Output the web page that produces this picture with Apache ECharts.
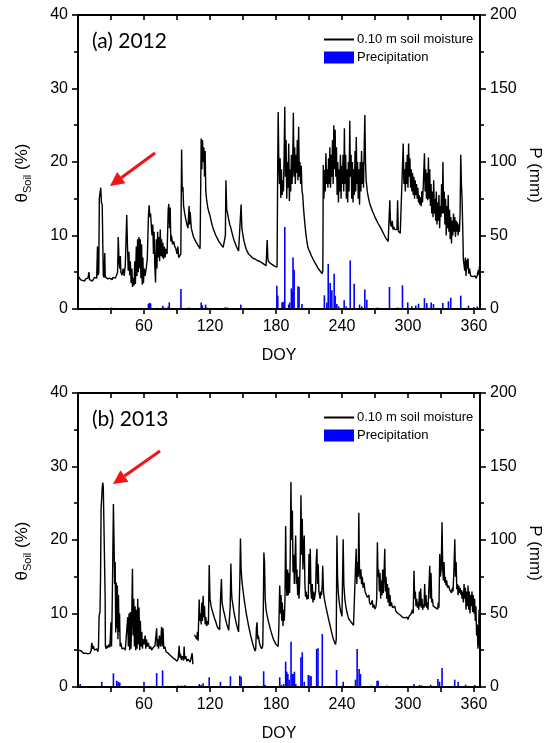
<!DOCTYPE html>
<html>
<head>
<meta charset="utf-8">
<script src="https://cdn.jsdelivr.net/npm/echarts@6/dist/echarts.min.js"></script>
<style>
  html, body { margin: 0; padding: 0; background: #fff; }
  #chart { width: 547px; height: 743px; }
</style>
</head>
<body>
<div id="chart"></div>
<script>
// soil moisture (%) at 0.10 m, [DOY, value]
var sm2012 = [
  [1,4.4],[2,4.0],[3,4.1],[4,3.9],[5,4.0],[6,3.8],[7,4.1],[8,3.9],[9,4.2],[10,5.0],[10.5,4.0],[11,3.9],[12,4.1],[13,3.8],[14,4.0],
  [15,4.3],[16,4.4],[17,4.2],[17.7,8.5],[18.3,4.6],[18.9,5.0],[19.4,15.0],[20,15.8],[20.7,16.5],[21.3,14.5],[22,14.2],[22.6,14.0],[23,4.6],
  [23.7,4.3],[24.3,7.6],[24.8,4.4],[25.5,4.2],[26,4.4],[27,4.1],[28,4.3],[29,4.2],[30,4.4],[31,4.0],[32,4.3],[33,4.5],[34,4.2],[35,4.4],
  [36,5.0],[36.6,9.8],[37.3,6.5],[38,5.5],[38.5,7.2],[39,5.0],[40,4.6],[41,5.5],[42,4.5],[43,6.0],[43.6,9.0],[44.3,12.8],[45,8.5],
  [45.7,5.2],[46.3,7.8],[47,4.6],[47.6,6.5],[48.3,3.5],[49,5.5],[49.6,3.0],[50.3,4.2],[51,3.2],[51.6,6.5],[52.2,3.4],[53,8.5],[53.6,4.5],
  [54.2,9.5],[54.8,5.0],[55.4,9.8],[56,5.5],[56.6,9.5],[57.2,4.2],[57.8,8.8],[58.4,3.3],[59,7.0],[59.5,3.5],[60.2,5.5],[61,4.5],[62,5.5],
  [63,6.8],[64,12.5],[64.7,14.1],[65.3,12.5],[66,13.0],[66.7,11.2],[67.3,10.0],[68,11.5],[68.6,7.5],[69.2,10.5],[69.8,6.0],[70.5,3.6],
  [71.2,9.5],[71.8,5.5],[72.4,10.5],[73,7.0],[73.6,9.8],[74.2,6.5],[74.8,10.8],[75.4,7.2],[76,9.5],[76.6,7.0],[77.2,9.0],[77.8,6.8],
  [78.5,8.5],[79.2,7.0],[80,8.2],[81,7.5],[82,13.5],[82.6,14.3],[83.2,11.0],[83.8,13.8],[84.4,9.2],[85,10.0],[86,8.8],[87,9.2],[88,8.5],
  [89,8.2],[90,7.5],[90.8,8.5],[91.5,7.0],[92.5,7.2],[93.5,7.5],[94.2,21.7],[94.8,16.0],[95.4,16.6],[96,14.0],[97,13.0],[98,12.2],
  [99,11.5],[100,11.0],[101,14.0],[101.5,11.5],[102,13.2],[103,11.0],[104,10.4],[105,9.8],[106,9.6],[107,9.2],[108,9.0],[109,8.7],
  [110,8.5],[111,8.2],[112,23.2],[112.6,19.0],[113.2,23.0],[113.8,20.0],[114.4,22.0],[115,18.0],[115.6,21.5],[116.2,16.0],[117,14.8],
  [118,13.8],[119,13.2],[120,12.7],[121,12.0],[122,11.4],[123,10.9],[124,10.5],[125,10.1],[126,9.8],[127,9.5],[128,9.2],[129,9.0],
  [130,8.8],[131,8.6],[132,8.4],[133,8.3],[134,10.0],[134.5,17.5],[135.2,13.5],[136,13.0],[137,12.2],[138,11.5],[139,11.0],[140,10.4],
  [141,9.8],[142,9.3],[143,8.9],[144,8.5],[145,8.2],[146,7.9],[147,7.7],[148.3,14.2],[149,11.0],[150,10.0],[151,9.2],[152,8.6],[153,8.1],
  [154,7.8],[155,7.5],[156,7.3],[157,7.2],[158,7.0],[159,6.9],[160,6.8],[161,6.8],[162,6.7],[163,6.6],[164,6.6],[165,6.5],[166,6.4],
  [167,6.3],[168,6.2],[169,6.1],[170,6.0],[171,5.9],[172,9.4],[172.6,7.0],[173,6.5],[174,6.3],[175,6.2],[176,6.1],[177,6.0],[178,5.9],
  [179,5.8],[180,6.0],[181,5.7],[181.6,20.0],[182,26.8],[182.6,20.0],[183.2,17.0],[183.8,20.5],[184.4,15.1],[185,19.0],[185.6,15.5],
  [186.2,17.5],[186.8,16.0],[187.4,21.0],[188,27.5],[188.6,18.0],[189.2,23.0],[189.8,15.0],[190.4,20.0],[191,16.5],[191.6,22.5],
  [192.2,14.7],[192.8,19.0],[193.4,16.0],[194,21.0],[194.6,17.0],[195.2,19.5],[195.8,26.7],[196.4,18.0],[197,22.0],[197.6,17.0],
  [198.2,21.0],[198.8,18.5],[199.4,23.0],[200,17.5],[200.6,24.8],[201.2,18.0],[201.8,20.0],[202.4,17.0],[203,19.5],[203.6,16.2],
  [204.3,15.5],[205,13.8],[206,12.0],[207,10.5],[208,9.3],[209,8.4],[210,8.0],[211,7.7],[212,7.3],[213,7.0],[214,6.7],[215,6.4],
  [216,6.2],[217,5.9],[218,5.6],[219,5.4],[220,5.2],[221,5.0],[222,4.8],[222.6,5.2],[223,19.6],[223.6,15.0],[224.2,18.9],[224.8,16.0],
  [225.4,21.2],[226,17.0],[226.6,19.0],[227.2,16.5],[227.8,20.5],[228.4,17.0],[229,22.0],[229.6,16.5],[230.2,21.0],[230.8,18.0],
  [231.4,23.0],[232,17.0],[232.6,25.0],[233.2,19.0],[233.8,24.4],[234.4,18.0],[235,22.0],[235.6,15.5],[236.2,20.0],[236.8,14.5],
  [237.4,19.0],[238,16.0],[238.6,21.0],[239.2,15.0],[239.8,19.5],[240.4,17.0],[241,21.0],[241.6,16.0],[242.2,24.6],[242.8,17.0],
  [243.4,21.0],[244,15.0],[244.6,19.0],[245.2,14.5],[245.8,20.0],[246.4,16.0],[247.1,25.6],[247.7,18.0],[248.3,21.0],[248.9,15.0],
  [249.5,20.0],[250.1,14.5],[250.7,19.0],[251.3,15.5],[251.9,21.5],[252.5,16.0],[253,23.4],[253.6,17.0],[254.2,20.0],[254.8,15.0],
  [255.4,19.0],[256,14.2],[256.6,20.0],[257.2,16.0],[257.8,21.5],[258.4,17.0],[259,20.0],[259.6,16.5],[260.2,22.0],[260.8,26.4],
  [261.4,20.0],[262,17.5],[263,16.0],[264,15.2],[265,14.5],[266,14.0],[267,13.6],[268,13.2],[269,12.9],[270,12.5],[271,12.2],
  [272,11.9],[273,11.6],[274,11.4],[275,11.1],[276,10.8],[277,10.5],[278,10.2],[279,9.9],[280,9.6],[281,9.4],[282,9.2],[282.8,9.1],
  [283.5,14.8],[284.2,11.5],[285,11.2],[285.7,12.0],[286.4,10.8],[287,11.2],[288,10.8],[289,10.6],[290,10.8],[290.6,14.8],[291.2,10.6],
  [292,10.4],[293,10.3],[294,10.2],[294.8,10.5],[295.7,22.5],[296.3,17.0],[297,19.0],[297.6,16.0],[298.2,20.0],[298.8,17.0],[299.4,21.0],
  [300,16.5],[300.6,22.5],[301.2,18.0],[301.8,20.5],[302.4,16.5],[303,19.0],[303.6,16.0],[304.2,18.5],[304.8,15.5],[305.4,18.0],
  [306,15.0],[306.6,17.5],[307.2,15.5],[307.8,17.0],[308.4,15.0],[309,16.5],[309.6,14.5],[310.2,15.5],[310.8,14.2],[311.4,15.2],
  [312,14.0],[312.6,16.0],[313.2,14.5],[314,17.0],[315,21.2],[315.6,16.0],[316.2,19.0],[316.8,15.0],[317.4,18.5],[318,14.8],
  [318.6,20.6],[319.2,15.0],[319.8,19.0],[320.4,14.0],[321,17.0],[321.6,13.0],[322.2,16.0],[322.8,12.5],[323.4,17.5],[324,13.0],
  [324.6,15.0],[325.2,12.0],[325.8,16.0],[326.4,11.5],[327,14.5],[327.6,12.0],[328.2,15.5],[328.8,11.0],[329.4,14.0],[330,12.5],
  [330.6,17.0],[331.2,13.0],[331.8,20.0],[332.4,13.0],[333,16.0],[333.6,11.5],[334.2,15.0],[334.8,10.0],[335.4,14.0],[336,11.0],
  [336.6,15.5],[337.2,10.5],[337.8,13.5],[338.4,9.5],[339,12.5],[339.6,8.9],[340.2,12.0],[340.8,10.0],[341.4,13.0],[342,10.5],
  [342.6,12.5],[343.2,9.8],[343.8,12.0],[344.4,10.5],[345,11.8],[345.6,10.0],[346.2,11.5],[346.8,10.5],[347.4,13.0],[348,21.0],
  [348.6,17.0],[349.2,15.0],[349.8,11.0],[350.4,6.7],[351,6.0],[351.6,5.2],[352.2,7.0],[352.8,4.5],[353.4,6.7],[354,5.5],[354.6,6.9],
  [355.2,4.8],[356,5.5],[357,4.5],[358,4.3],[359,4.4],[360,4.3],[361,4.5],[362,4.2],[363,4.6],[364,5.3],[364.6,4.6],[365,5.8],[365.5,5.2]
];

var sm2013 = [
  [1,5.0],[2,4.8],[3,4.9],[4,4.7],[5,4.6],[6,4.8],[7,4.6],[8,4.7],[9,4.5],[10,4.7],[11,4.6],[12,5.0],[12.5,6.0],[13,5.8],[13.5,5.2],
  [14,5.6],[15,5.0],[16,4.9],[17,5.2],[18,4.8],[18.6,5.3],[19.2,9.7],[20,10.2],[20.5,15.0],[21,24.2],[21.5,24.0],[22,27.0],[22.5,27.8],
  [23,27.2],[23.6,27.3],[24.2,27.0],[24.7,12.0],[24.9,5.6],[25.5,5.2],[26,5.6],[27,5.3],[28,5.8],[29,5.4],[30,8.8],[30.5,5.5],[31,10.0],
  [31.6,17.0],[32.2,24.9],[32.8,19.5],[33.3,14.0],[33.8,17.0],[34.3,7.4],[34.8,14.2],[35.3,8.0],[35.8,13.8],[36.3,6.5],[36.8,12.5],
  [37.3,7.5],[37.8,10.0],[38.3,5.5],[39,6.0],[40,5.2],[41,5.0],[42,5.3],[43,5.0],[44,5.2],[44.6,5.0],[45.2,9.5],[45.8,5.5],[46.4,10.0],
  [47,5.0],[47.6,10.2],[48.2,5.2],[48.8,9.0],[49.5,16.1],[50.1,7.0],[50.7,12.0],[51.3,5.5],[51.9,11.0],[52.5,5.0],[53.1,10.5],[53.7,5.2],
  [54.3,12.0],[54.9,5.8],[55.5,10.8],[56.1,5.0],[56.7,9.0],[57.3,5.5],[58,7.5],[58.6,5.2],[59.2,6.5],[60,5.8],[61,7.0],[61.6,5.2],
  [62.3,6.5],[63,5.5],[64,6.0],[65,5.2],[66,5.5],[67,5.0],[68,5.3],[69,5.1],[70,5.6],[71.5,8.0],[72,5.5],[72.6,6.5],[73.2,5.2],[74,7.0],
  [75,5.5],[76,8.2],[76.6,5.5],[77.3,8.0],[78,5.2],[79,5.5],[80,4.8],[81,5.0],[82,4.6],[83,4.5],[84,4.3],[85,4.2],[86,4.0],[87,3.9],
  [88,3.8],[89,3.6],[90,3.5],[91,3.8],[92,5.6],[92.6,4.0],[93.2,4.5],[94,3.7],[95,4.2],[96,3.6],[96.5,5.5],[97,3.8],[98,4.2],[99,3.5],
  [100,3.8],[101,3.6],[102,3.4],[103,3.3],[103.8,4.6],[104.4,3.2],[104.8,3.1],[105.4,null],[106,7.1],[107,6.8],[108,6.5],[108.6,7.5],
  [109.2,6.3],[110.2,11.9],[110.8,9.0],[111.4,10.0],[112,8.5],[112.6,11.5],[113.2,9.0],[113.8,12.4],[114.4,9.5],[115,11.0],[115.6,8.5],
  [116.2,9.5],[117,8.3],[118,9.0],[118.6,8.5],[119.3,16.6],[120,12.0],[121,11.0],[122,10.4],[123,9.9],[124,9.4],[125,9.0],[126,8.5],
  [127,8.1],[128,7.9],[128.8,7.8],[129.6,12.0],[130.4,14.7],[131,11.5],[132,10.6],[133,10.0],[134,9.3],[135,8.7],[136,8.2],[137,7.7],
  [137.8,7.5],[138.4,11.0],[139,16.8],[139.6,13.0],[140,12.0],[141,11.0],[142,10.0],[143,9.3],[144,8.6],[145,8.0],[146,7.5],[146.7,7.4],
  [147.2,15.0],[147.7,20.2],[148.3,16.0],[149,14.5],[150,13.2],[151,12.0],[152,11.0],[153,10.0],[154,9.2],[155,8.4],[156,7.7],[157,7.0],
  [158,6.4],[159,5.8],[160,5.3],[161,4.9],[161.6,5.2],[162.2,8.0],[162.8,8.8],[163.4,6.5],[164,7.0],[165,6.0],[166,5.5],[167,5.2],
  [168,5.6],[168.6,12.0],[169,18.3],[169.6,16.9],[170.2,12.0],[171,10.5],[172,9.7],[173,9.0],[174,8.4],[175,7.8],[176,7.3],[177,6.8],
  [178,6.4],[179,6.1],[180,5.8],[181,5.6],[182,5.5],[182.6,8.0],[183.4,13.8],[184,10.0],[184.6,12.5],[185.2,9.0],[185.8,11.5],
  [186.4,8.3],[187,10.5],[187.6,9.0],[188.2,12.0],[188.8,21.9],[189.4,14.0],[190,12.4],[190.6,16.0],[191.2,12.5],[191.8,15.5],
  [192.4,12.8],[193,18.0],[193.6,27.9],[194.2,20.0],[194.9,24.0],[195.5,15.6],[196.1,18.0],[196.7,14.0],[197.3,17.0],[197.9,20.6],
  [198.5,14.0],[199.1,16.0],[199.7,12.5],[200.3,15.0],[200.9,12.0],[201.5,14.0],[202.1,18.0],[202.7,26.1],[203.3,18.0],[203.9,22.9],
  [204.5,16.0],[205.1,19.0],[205.7,20.6],[206.3,14.0],[206.9,12.3],[207.5,13.0],[208.1,11.9],[208.7,12.5],[209.4,12.0],[210,18.1],
  [210.6,14.0],[211.2,18.8],[211.8,13.0],[212.4,12.0],[213,14.0],[213.6,11.5],[214.2,13.0],[214.8,11.8],[215.4,12.0],[216,13.0],
  [216.6,17.0],[217.2,18.8],[217.8,14.0],[218.4,16.7],[219,13.0],[219.6,12.5],[220.2,12.0],[220.8,13.0],[221.4,12.5],[222.1,14.0],
  [222.5,16.5],[223.2,13.0],[224,12.0],[225,11.2],[226,10.5],[227,9.8],[228,9.1],[229,8.5],[230,7.8],[231,7.2],[232,6.6],[233,6.2],
  [234.2,5.8],[234.8,6.5],[235.4,20.6],[236,15.0],[236.6,13.0],[237.2,12.0],[238,11.0],[239,10.2],[240,9.6],[240.6,9.4],[241.1,20.1],
  [241.7,14.0],[242.6,12.0],[243.5,11.0],[244.5,10.2],[245.5,9.6],[246.5,9.2],[247.5,9.0],[248.5,8.8],[249.5,8.6],[250.5,8.4],
  [251.5,8.3],[252.2,8.3],[252.9,18.8],[253.5,14.0],[254.2,17.0],[254.8,15.0],[255.3,23.7],[255.9,16.0],[256.5,14.7],[257.2,16.0],
  [257.8,14.0],[258.5,15.0],[259.2,13.5],[260,14.2],[261,13.0],[262,12.6],[263,12.2],[263.6,12.0],[264.5,12.5],[265,11.5],[266,11.2],
  [267,11.0],[267.6,11.8],[268.2,10.8],[269,11.2],[270,10.6],[271,11.0],[271.6,12.0],[272.2,19.7],[272.8,15.0],[273.4,16.0],[274,13.0],
  [274.6,15.5],[275.2,12.0],[275.8,14.5],[276.4,12.5],[277,16.0],[277.6,12.8],[278.2,15.0],[278.9,18.8],[279.5,13.0],[280.1,15.0],
  [280.7,12.0],[281.3,14.0],[281.9,11.5],[282.5,13.5],[283.1,11.0],[283.7,12.5],[284.3,11.0],[285,11.5],[286,10.8],[287,10.6],
  [288,11.0],[289,10.3],[290,10.4],[291,10.0],[292,10.2],[293,9.8],[294,9.6],[295,9.5],[296,9.3],[297,9.4],[298,9.2],[299,9.5],
  [300,9.2],[301,9.6],[302,9.4],[303,10.0],[304,10.5],[304.8,10.0],[305.5,15.8],[306.1,12.0],[306.7,13.0],[307.3,11.0],[308,12.0],
  [308.6,10.8],[309.2,11.5],[309.8,10.5],[310.4,13.0],[311,11.0],[311.6,13.4],[312.2,10.8],[312.8,12.0],[313.4,10.5],[314,11.2],
  [314.6,10.8],[315.2,14.0],[315.8,11.0],[316.4,12.5],[317,10.8],[317.6,11.5],[318.2,10.5],[319.2,14.0],[319.8,16.5],[320.4,12.0],
  [321,15.5],[321.6,11.5],[322.2,12.0],[323,11.0],[324,11.2],[325,10.8],[326,11.0],[327,10.6],[327.6,11.5],[328.2,10.8],[328.9,18.1],
  [329.5,15.0],[330.2,16.0],[331,22.4],[331.6,16.0],[332.2,14.5],[332.8,17.0],[333.4,14.2],[334,15.0],[334.6,13.8],[335.2,14.5],
  [336,13.5],[337,13.8],[338,13.2],[339,13.0],[339.6,12.8],[340.4,13.5],[341,13.0],[341.8,16.0],[342.6,20.1],[343.2,15.0],[343.8,17.0],
  [344.4,13.3],[345,14.0],[345.6,12.5],[346.2,13.8],[346.8,12.8],[347.4,13.5],[348,12.6],[348.6,13.2],[349.2,12.0],[349.8,13.0],
  [350.4,11.5],[351,14.0],[351.6,12.0],[352.2,13.5],[352.8,10.5],[353.4,13.0],[354,11.0],[354.6,13.8],[355.2,10.5],[355.8,13.0],
  [356.4,10.0],[357,12.5],[357.6,11.0],[358.2,13.0],[358.8,10.2],[359.4,12.5],[360,10.0],[360.6,12.0],[361.2,9.0],[361.8,11.0],
  [362.4,7.0],[363,8.5],[363.6,5.2],[364.2,6.5],[364.6,10.5],[365,5.6]
];

// daily precipitation (mm), [DOY, value]
var precip2012 = [
  [20,0.8],[21,0.6],[26.7,0.5],[30,1.0],[33,0.8],[38,0.6],[64,3.5],[65,4.2],[66,3.8],[72,0.8],[77,2.2],[78,1.0],[82,1.5],[83,4.5],
  [93.6,13.6],[101,1.0],[112,4.5],[113,2.5],[116,3.0],[117,1.0],[134,1.2],[136,1.0],[148,3.0],[180.8,15.9],[181.6,9.1],[185.5,4.5],
  [186.5,5.0],[187,3.0],[188,55.8],[191.5,3.0],[192.5,4.5],[194,14.0],[195,12.0],[195.5,35.0],[196.5,26.7],[200,15.4],[201,15.0],
  [203.6,3.4],[224,9.3],[226.3,4.5],[227.5,30.6],[229.3,17.7],[230.8,12.7],[232.9,24.0],[233.8,9.0],[235.3,3.4],[236.9,1.8],
  [242,5.9],[243.9,1.8],[247.5,33.1],[251.1,17.2],[256,3.0],[258,1.8],[260.8,13.2],[262.6,6.3],[272.3,1.0],[283.2,15.0],[290.5,1.0],
  [295,16.1],[299.8,4.5],[303.5,1.8],[307.1,2.3],[309.6,3.6],[315,7.3],[317.1,4.0],[321.1,4.5],[323.2,3.4],[331.7,4.0],[336.8,5.2],
  [338.9,7.7],[348,9.1],[355,2.3],[360,1.4],[363,1.8]
];

var precip2013 = [
  [2,2.0],[21.6,3.6],[32.2,9.3],[35.2,4.3],[36.5,3.6],[38,3.0],[60,3.6],[71.5,9.5],[76.9,11.3],[91,1.0],[94,1.0],[97,1.2],[110.2,2.0],
  [112,1.5],[113.8,2.5],[119.3,6.6],[129.5,3.6],[138.6,7.3],[147.1,7.7],[148.3,7.0],[162.2,0.9],[164,0.8],[168.8,10.7],[170,1.5],
  [183.4,6.6],[185,1.5],[187,2.0],[188.8,17.2],[189.8,10.4],[190.8,8.8],[192,5.0],[193.7,30.8],[194.7,9.0],[195.8,8.8],[196.8,10.4],
  [198,2.0],[202.7,20.2],[203.9,23.6],[205.7,3.6],[209.4,8.2],[210.9,7.7],[211.9,7.3],[217,25.9],[218.2,26.3],[222.1,36.0],
  [235.1,11.6],[241.1,3.6],[252.3,5.0],[253.8,25.9],[255.6,12.2],[256.8,8.8],[266.8,1.0],[271.9,4.3],[272.9,4.3],[281,1.0],
  [305.5,2.0],[310.6,1.4],[312.6,1.0],[320.6,1.6],[327.2,5.4],[328.7,3.6],[331,12.9],[342.5,5.0],[345.6,3.6],[352.4,1.6],[360.9,1.4]
];

var panelLabels = ['(a) 2012', '(b) 2013'];
var smName = '0.10 m soil moisture';
var pName = 'Precipitation';
var doyMax = 365.5, smMax = 40, pMax = 200;

var chart = echarts.init(document.getElementById('chart'));
var font = 'Liberation Sans';
var grids = [
  { left: 78, top: 15, width: 402, height: 294, show: true, borderColor: '#000', borderWidth: 2, backgroundColor: 'rgba(0,0,0,0)' },
  { left: 78, top: 393, width: 402, height: 294, show: true, borderColor: '#000', borderWidth: 2, backgroundColor: 'rgba(0,0,0,0)' }
];

var xAxes = [], yAxes = [], series = [], legends = [], graphics = [];

function arrow(x1, y1, x2, y2) {
  var dx = x2 - x1, dy = y2 - y1;
  var len = Math.sqrt(dx * dx + dy * dy);
  var ux = dx / len, uy = dy / len;
  var bx = x2 - ux * 14, by = y2 - uy * 14;
  var px = -uy * 7, py = ux * 7;
  return [
    { type: 'line', shape: { x1: x1, y1: y1, x2: bx, y2: by }, style: { stroke: '#f01414', lineWidth: 3 } },
    { type: 'polygon', shape: { points: [[x2, y2], [bx + px, by + py], [bx - px, by - py]] }, style: { fill: '#f01414' } }
  ];
}

function axisLine() {
  return { show: true, onZero: false, lineStyle: { color: '#000', width: 2 } };
}

[sm2012, sm2013].forEach(function (sm, i) {
  var g = grids[i];
  xAxes.push({
    type: 'value', gridIndex: i, position: 'bottom', min: 0, max: doyMax, interval: 30,
    name: 'DOY', nameLocation: 'middle', nameGap: 39,
    nameTextStyle: { fontFamily: font, fontSize: 16, color: '#000' },
    axisLine: axisLine(),
    axisTick: { show: false },
    axisLabel: {
      fontFamily: font, fontSize: 16, color: '#000', margin: 10, showMaxLabel: false,
      formatter: function (v) { return (v > 0 && v % 60 === 0) ? String(v) : ''; }
    },
    splitLine: { show: false }
  });
  xAxes.push({
    type: 'value', gridIndex: i, position: 'top', min: 0, max: doyMax, interval: 30,
    axisLine: axisLine(), axisTick: { show: false }, axisLabel: { show: false }, splitLine: { show: false }
  });
  yAxes.push({
    type: 'value', gridIndex: i, position: 'left', min: 0, max: smMax, interval: 10,
    axisLine: axisLine(), axisTick: { show: false },
    axisLabel: { fontFamily: font, fontSize: 16, color: '#000', margin: 10 },
    splitLine: { show: false }
  });
  yAxes.push({
    type: 'value', gridIndex: i, position: 'right', min: 0, max: pMax, interval: 50,
    axisLine: axisLine(), axisTick: { show: false },
    axisLabel: { fontFamily: font, fontSize: 16, color: '#000', margin: 10 },
    splitLine: { show: false }
  });

  series.push({
    name: smName, type: 'line', xAxisIndex: i * 2, yAxisIndex: i * 2,
    data: sm, symbol: 'none', connectNulls: false, color: '#000',
    lineStyle: { color: '#000', width: 1.4 }
  });
  series.push({
    name: pName, type: 'bar', xAxisIndex: i * 2, yAxisIndex: i * 2 + 1,
    data: i === 0 ? precip2012 : precip2013, barWidth: 1.6, color: '#0000ff',
    itemStyle: { color: '#0000ff' }
  });

  legends.push({
    orient: 'vertical', left: 318, top: g.top + 13, itemWidth: 30, itemHeight: 12, itemGap: 5,
    selectedMode: false,
    textStyle: { fontFamily: font, fontSize: 13, color: '#000', padding: [0, 0, 0, -2] },
    data: [
      { name: smName, itemStyle: { opacity: 0 } },
      { name: pName, icon: 'rect' }
    ]
  });

  graphics.push({
    type: 'text', x: 92, y: g.top + 26,
    style: { text: panelLabels[i], fontFamily: 'Lato', fontSize: 21, fill: '#000', verticalAlign: 'middle' }
  });
  graphics.push({
    type: 'text', x: 22, y: g.top + 158, rotation: Math.PI / 2,
    style: {
      text: '{t|θ}{s|Soil}{t| (%)}', align: 'center', verticalAlign: 'middle', fill: '#000',
      fontFamily: font, fontSize: 17,
      rich: {
        t: { fontFamily: font, fontSize: 17, lineHeight: 22, verticalAlign: 'middle' },
        s: { fontFamily: font, fontSize: 11, lineHeight: 22, verticalAlign: 'bottom' }
      }
    }
  });
  graphics.push({
    type: 'text', x: 535, y: g.top + 160, rotation: -Math.PI / 2,
    style: { text: 'P (mm)', align: 'center', verticalAlign: 'middle', fill: '#000', fontFamily: font, fontSize: 17 }
  });
});

graphics = graphics.concat(arrow(155, 153, 110, 186), arrow(160, 451, 113, 484));

chart.setOption({
  animation: false,
  grid: grids,
  xAxis: xAxes,
  yAxis: yAxes,
  legend: legends,
  series: series
});

// frame (as thin filled bars) and ticks, placed through the axes' own scales
function bar(x, y, w, h) {
  return { type: 'rect', z: 100, shape: { x: x, y: y, width: w, height: h }, style: { fill: '#000' } };
}
function seg(x1, y1, x2, y2, w) {
  return { type: 'line', z: 100, shape: { x1: x1, y1: y1, x2: x2, y2: y2 }, style: { stroke: '#000', lineWidth: w } };
}
grids.forEach(function (g, i) {
  var xa = { xAxisIndex: i * 2 }, ya = { yAxisIndex: i * 2 }, pa = { yAxisIndex: i * 2 + 1 };
  var x0 = Math.round(chart.convertToPixel(xa, 0)), x1 = Math.round(chart.convertToPixel(xa, doyMax));
  var y0 = Math.round(chart.convertToPixel(ya, 0)), y1 = Math.round(chart.convertToPixel(ya, smMax));
  graphics.push(
    bar(x0 - 1, y1 - 1, x1 - x0 + 2, 2),
    bar(x0 - 1, y0 - 1, x1 - x0 + 2, 2),
    bar(x0 - 1, y1 - 1, 2, y0 - y1 + 2),
    bar(x1 - 1, y1 - 1, 2, y0 - y1 + 2)
  );
  var v, p;
  for (v = 30; v <= 360; v += 30) {
    p = Math.round(chart.convertToPixel(xa, v));
    graphics.push(seg(p, y0, p, y0 + 5, 1.6), seg(p, y1, p, y1 + 5, 1.6));
  }
  for (v = 0; v <= smMax; v += 5) {
    p = Math.round(chart.convertToPixel(ya, v));
    graphics.push(seg(x0 - (v % 10 === 0 ? 6 : 4), p, x0, p, 1.6));
  }
  for (v = 0; v <= pMax; v += 25) {
    p = Math.round(chart.convertToPixel(pa, v));
    graphics.push(seg(x1, p, x1 + (v % 50 === 0 ? 6 : 4), p, 1.6));
  }
});

chart.setOption({ graphic: graphics });
</script>
</body>
</html>
